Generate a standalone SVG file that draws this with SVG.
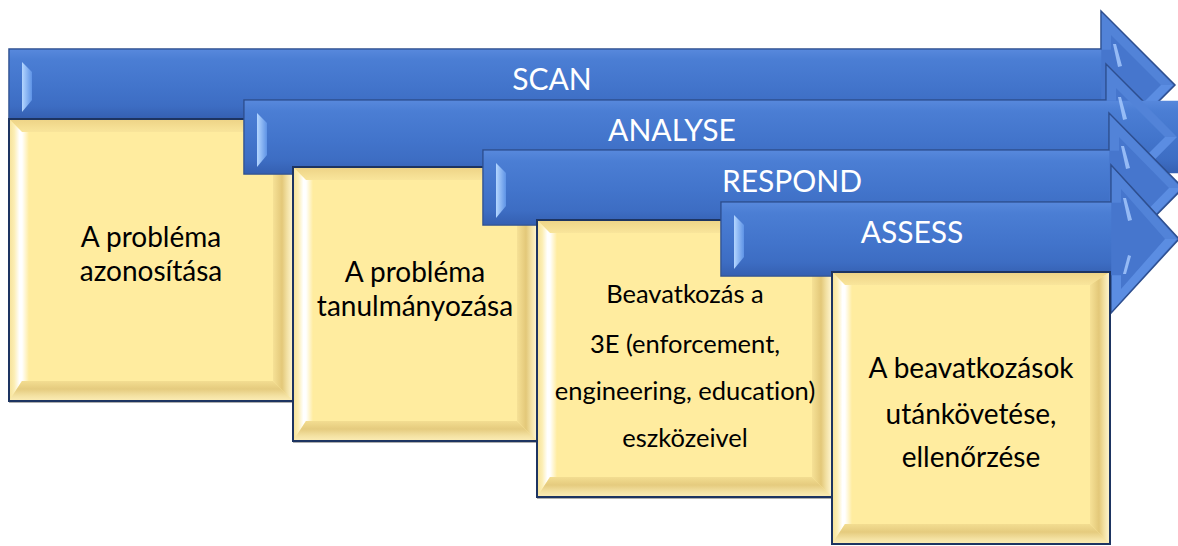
<svg xmlns="http://www.w3.org/2000/svg" width="1178" height="546" viewBox="0 0 1178 546">
<style>
.arrow{fill:#4676CD;stroke:#2E4F8F;stroke-width:1.5;stroke-linejoin:miter}
.shaft{fill:url(#shaftG)}
.htop{fill:#5283D8}
.hbot{fill:#5B8DE2}
.hl{fill:url(#hlG)}
.streak{fill:#A9CCFF;opacity:.8}
.alabel{font-family:Lato,"Liberation Sans",sans-serif;font-size:30px;fill:#FFFFFF;text-anchor:middle}
.box{fill:#FFEC9F}
.ftop{fill:url(#topG)}
.fleft{fill:url(#leftG)}
.fright{fill:url(#rightG)}
.fbot{fill:url(#botG)}
.wstripe{fill:url(#wsG)}
.border{fill:none;stroke:#1D3461;stroke-width:2}
.shadow{fill:none;stroke:#8C8C8C;stroke-width:1;opacity:.7}
.btext{font-family:Lato,"Liberation Sans",sans-serif;font-size:28px;fill:#000000;text-anchor:middle;font-variant-ligatures:none}
.small{font-size:25.5px}
</style>
<defs>
<linearGradient id="shaftG" x1="0" y1="0" x2="0" y2="1">
<stop offset="0" stop-color="#5788DC"/>
<stop offset="0.14" stop-color="#4B7ED4"/>
<stop offset="0.55" stop-color="#4274CB"/>
<stop offset="0.82" stop-color="#3D6DC3"/>
<stop offset="1" stop-color="#3560B2"/>
</linearGradient>
<linearGradient id="hlG" x1="0" y1="0" x2="1" y2="0">
<stop offset="0" stop-color="#B4D6FF"/>
<stop offset="1" stop-color="#5E93E6"/>
</linearGradient>
<linearGradient id="topG" x1="0" y1="0" x2="0" y2="1">
<stop offset="0" stop-color="#EDD386"/>
<stop offset="1" stop-color="#F9E59B"/>
</linearGradient>
<linearGradient id="leftG" x1="0" y1="0" x2="1" y2="0">
<stop offset="0" stop-color="#F5E198"/>
<stop offset="0.4" stop-color="#FCEEB4"/>
<stop offset="0.8" stop-color="#FFFFFF"/>
<stop offset="1" stop-color="#FFFFFF"/>
</linearGradient>
<linearGradient id="wsG" x1="0" y1="0" x2="1" y2="0">
<stop offset="0" stop-color="#FFFFFF"/>
<stop offset="1" stop-color="#FFEC9F"/>
</linearGradient>
<linearGradient id="rightG" x1="0" y1="0" x2="1" y2="0">
<stop offset="0" stop-color="#F6E196"/>
<stop offset="0.45" stop-color="#E3C879"/>
<stop offset="0.7" stop-color="#F2E0A2"/>
<stop offset="1" stop-color="#FFF6D2"/>
</linearGradient>
<linearGradient id="botG" x1="0" y1="0" x2="0" y2="1">
<stop offset="0" stop-color="#F3DD91"/>
<stop offset="0.4" stop-color="#E5CB7E"/>
<stop offset="0.75" stop-color="#F4E2A3"/>
<stop offset="1" stop-color="#FCEDB6"/>
</linearGradient>
</defs>

<g id="connectors"/>

<g id="scan">
<path class="arrow" d="M9,49 H1101 V11 L1175,85 L1101,159 V119 H9 Z"/>
<rect class="shaft" x="9.75" y="49.75" width="1091.5" height="68.5"/>
<polygon class="htop" points="1101.8,13 1173,85 1161,85 1111,35 1111,49.75 1101.8,49.75"/>
<polygon class="hbot" points="1101.8,157 1173,85 1161,85 1111,135 1111,118.25 1101.8,118.25"/>
<polygon class="streak" points="1113,44 1116,44 1122,66 1118,67"/>
<polygon class="streak" points="1113,126 1116,126 1122,104 1118,103"/>
<polygon class="hl" points="22,62 32,72 32,100 22,112"/>
<text class="alabel" x="552" y="90">SCAN</text>
</g>

<g id="box1">
<rect class="box" x="9" y="119" width="284" height="282"/>
<polygon class="ftop" points="9,119 293,119 273,132 22,132"/>
<polygon class="fleft" points="9,119 22,132 22,381 9,401"/>
<rect class="wstripe" x="22" y="132" width="7" height="249"/>
<polygon class="fright" points="293,119 293,401 273,381 273,132"/>
<polygon class="fbot" points="9,401 22,381 273,381 293,401"/>
<rect class="shadow" x="9.5" y="119.5" width="284.5" height="283"/>
<rect class="border" x="9" y="119" width="284" height="282"/>
<text class="btext" x="151" y="247">A probléma</text>
<text class="btext" x="151" y="281">azonosítása</text>
</g>

<g id="analyse">
<path class="arrow" d="M244,100 H1106 V64 L1179,137 L1106,210 V174 H244 Z"/>
<rect class="shaft" x="244.75" y="100.75" width="1061.5" height="72.5"/>
<polygon class="htop" points="1106.8,66 1177,137 1165,137 1116,88 1116,100.75 1106.8,100.75"/>
<polygon class="hbot" points="1106.8,208 1177,137 1165,137 1116,186 1116,173.25 1106.8,173.25"/>
<polygon class="streak" points="1118,97 1121,97 1127,119 1123,120"/>
<polygon class="streak" points="1118,177 1121,177 1127,155 1123,154"/>
<polygon class="hl" points="257,113 267,123 267,155 257,167"/>
<text class="alabel" x="672" y="141">ANALYSE</text>
</g>

<g id="box2">
<rect class="box" x="293" y="167" width="244" height="274"/>
<polygon class="ftop" points="293,167 537,167 517,180 306,180"/>
<polygon class="fleft" points="293,167 306,180 306,421 293,441"/>
<rect class="wstripe" x="306" y="180" width="7" height="241"/>
<polygon class="fright" points="537,167 537,441 517,421 517,180"/>
<polygon class="fbot" points="293,441 306,421 517,421 537,441"/>
<rect class="shadow" x="293.5" y="167.5" width="244.5" height="275"/>
<rect class="border" x="293" y="167" width="244" height="274"/>
<text class="btext" x="415" y="282">A probléma</text>
<text class="btext" x="415" y="316">tanulmányozása</text>
</g>

<g id="respond">
<path class="arrow" d="M483,150 H1109 V113 L1183,188 L1109,263 V225 H483 Z"/>
<rect class="shaft" x="483.75" y="150.75" width="625.5" height="73.5"/>
<polygon class="htop" points="1109.8,115 1181,188 1169,188 1119,137 1119,150.75 1109.8,150.75"/>
<polygon class="hbot" points="1109.8,261 1181,188 1169,188 1119,239 1119,224.25 1109.8,224.25"/>
<polygon class="streak" points="1121,146 1124,146 1130,168 1126,169"/>
<polygon class="streak" points="1121,230 1124,230 1130,208 1126,207"/>
<polygon class="hl" points="496,163 506,173 506,206 496,218"/>
<text class="alabel" x="792" y="192">RESPOND</text>
</g>

<g id="box3">
<rect class="box" x="537" y="220" width="295" height="277"/>
<polygon class="ftop" points="537,220 832,220 812,233 550,233"/>
<polygon class="fleft" points="537,220 550,233 550,477 537,497"/>
<rect class="wstripe" x="550" y="233" width="7" height="244"/>
<polygon class="fright" points="832,220 832,497 812,477 812,233"/>
<polygon class="fbot" points="537,497 550,477 812,477 832,497"/>
<rect class="shadow" x="537.5" y="220.5" width="295.5" height="278"/>
<rect class="border" x="537" y="220" width="295" height="277"/>
<text class="btext small" x="685" y="303">Beavatkozás a</text>
<text class="btext small" x="685" y="353">3E (enforcement,</text>
<text class="btext small" x="685" y="400">engineering, education)</text>
<text class="btext small" x="685" y="447">eszközeivel</text>
</g>

<g id="assess">
<path class="arrow" d="M721,202 H1111 V165 L1179,239 L1111,313 V276 H721 Z"/>
<rect class="shaft" x="721.75" y="202.75" width="389.5" height="72.5"/>
<polygon class="htop" points="1111.8,167 1177,239 1165,239 1121,189 1121,202.75 1111.8,202.75"/>
<polygon class="hbot" points="1111.8,311 1177,239 1165,239 1121,289 1121,275.25 1111.8,275.25"/>
<polygon class="streak" points="1123,198 1126,198 1132,220 1128,221"/>
<polygon class="streak" points="1123,274 1126,274 1131,256 1128,255"/>
<polygon class="hl" points="734,215 744,225 744,257 734,269"/>
<text class="alabel" x="912" y="243">ASSESS</text>
</g>

<g id="box4">
<rect class="box" x="832" y="272" width="278" height="272"/>
<polygon class="ftop" points="832,272 1110,272 1090,285 845,285"/>
<polygon class="fleft" points="832,272 845,285 845,524 832,544"/>
<rect class="wstripe" x="845" y="285" width="7" height="239"/>
<polygon class="fright" points="1110,272 1110,544 1090,524 1090,285"/>
<polygon class="fbot" points="832,544 845,524 1090,524 1110,544"/>
<rect class="border" x="832" y="272" width="278" height="272"/>
<text class="btext" x="971" y="378">A beavatkozások</text>
<text class="btext" x="971" y="424">utánkövetése,</text>
<text class="btext" x="971" y="467">ellenőrzése</text>
</g>
</svg>
